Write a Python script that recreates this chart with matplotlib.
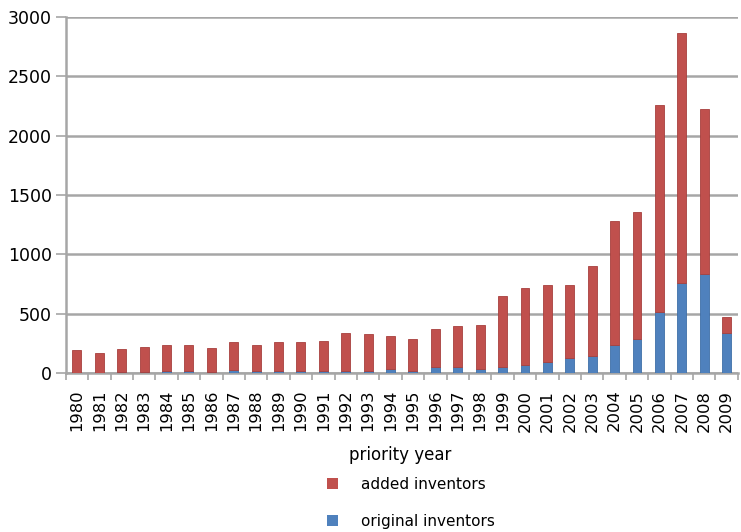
import numpy as np
import matplotlib
matplotlib.use("Agg")
import matplotlib.pyplot as plt
from matplotlib.patches import Patch
from matplotlib.ticker import FixedLocator

years = [str(y) for y in range(1980, 2010)]

original_inventors = [3, 3, 8, 10, 15, 15, 12, 25, 15, 20,
                      15, 18, 20, 20, 31, 19, 48, 53, 31, 53,
                      67, 95, 124, 143, 236, 284, 517, 761, 835, 335]

added_inventors = [188, 165, 190, 205, 220, 220, 195, 232, 218, 238,
                   243, 252, 318, 307, 278, 270, 320, 340, 376, 592,
                   652, 648, 620, 762, 1042, 1072, 1738, 2102, 1392, 136]

red = '#c0504d'
blue = '#4f81bd'
grid_col = '#a6a6a6'

fig = plt.figure(figsize=(7.41, 5.32), dpi=100)
ax = fig.add_axes([0.0887, 0.2989, 0.907, 0.669])

x = np.arange(len(years))
ax.bar(x, original_inventors, width=0.4, color=blue, edgecolor='#3f6fa8', linewidth=0.6, zorder=3)
ax.bar(x, added_inventors, width=0.4, bottom=original_inventors, color=red,
       edgecolor='#a8403d', linewidth=0.6, zorder=3)

ax.set_xlim(-0.5, len(years) - 0.5)
ax.set_ylim(0, 3000)
ax.set_yticks(range(0, 3001, 500))
ax.yaxis.grid(True, color=grid_col, linewidth=1.8, zorder=0)
ax.set_axisbelow(True)

ax.set_xticks(x)
ax.set_xticklabels(years, rotation=90, fontsize=11.8)
ax.xaxis.set_minor_locator(FixedLocator(np.arange(-0.5, len(years), 1.0)))
ax.tick_params(axis='x', which='major', length=0, pad=12)
ax.tick_params(axis='x', which='minor', length=5, width=1.2, color=grid_col)
ax.tick_params(axis='y', length=7, width=1.2, color=grid_col, labelsize=12.5, pad=3)

for s in ['top', 'right']:
    ax.spines[s].set_visible(False)
for s in ['left', 'bottom']:
    ax.spines[s].set_color(grid_col)
    ax.spines[s].set_linewidth(1.8)

fig.text(0.54, 0.145, 'priority year', ha='center', va='center', fontsize=12)

handles = [Patch(facecolor=red, edgecolor='none'), Patch(facecolor=blue, edgecolor='none')]
fig.legend(handles, ['added inventors', 'original inventors'],
           loc='upper left', bbox_to_anchor=(0.441, 0.104), frameon=False,
           fontsize=11, handlelength=0.75, handleheight=0.75, handletextpad=1.5,
           labelspacing=1.45, borderpad=0, borderaxespad=0)

plt.savefig('out.png', dpi=100)
